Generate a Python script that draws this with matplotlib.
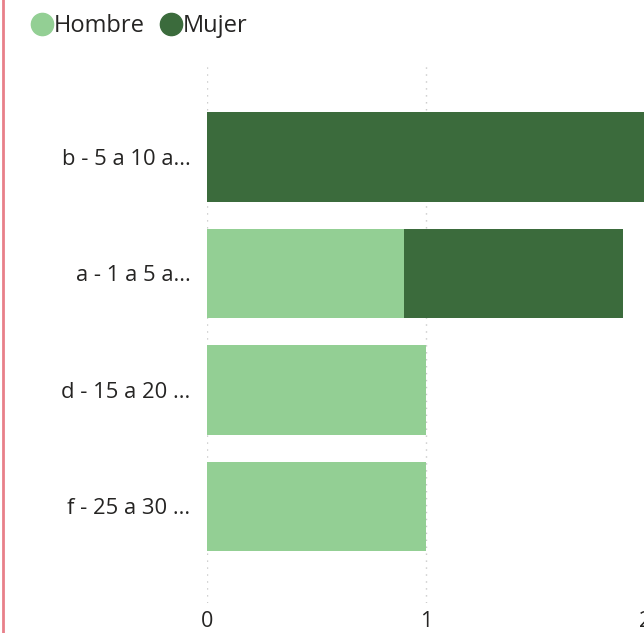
import matplotlib.pyplot as plt
from matplotlib.lines import Line2D
import numpy as np

categorias = ['b - 5 a 10 a...', 'a - 1 a 5 a...', 'd - 15 a 20 ...', 'f - 25 a 30 ...']
hombre = [0, 0.9, 1, 1]
mujer = [2, 1.0, 0, 0]
color_hombre = '#93CF94'
color_mujer = '#3B6B3C'

plt.rcParams['font.family'] = ['Open Sans', 'DejaVu Sans']

fig = plt.figure(figsize=(6.44, 6.33), dpi=100)
W, H = 644, 633
x0, x1 = 207, 645
y_top, y_bot = 65, 603
ax = fig.add_axes([x0 / W, 1 - y_bot / H, (x1 - x0) / W, (y_bot - y_top) / H])

y = np.arange(len(categorias))
ax.barh(y, hombre, height=0.77, color=color_hombre, zorder=2)
ax.barh(y, mujer, left=hombre, height=0.77, color=color_mujer, zorder=2)

ax.set_ylim(3.83, -0.79)
ax.set_xlim(0, 2)
ax.set_yticks(y)
ax.set_yticklabels(categorias, fontsize=15.8, color='#252423')
ax.set_xticks([0, 1, 2])
ax.set_xticklabels(['0', '1', '2'], fontsize=15.5, color='#252423')
ax.tick_params(length=0, pad=12)
ax.tick_params(axis='x', pad=6)
ax.grid(axis='x', linestyle=(0, (1, 4)), color='#C8C8C8', linewidth=1, zorder=0)
for s in ax.spines.values():
    s.set_visible(False)

handles = [Line2D([], [], marker='o', linestyle='', markersize=16, color=color_hombre),
           Line2D([], [], marker='o', linestyle='', markersize=16, color=color_mujer)]
fig.legend(handles, ['Hombre', 'Mujer'], loc='upper left', bbox_to_anchor=(7 / W, 1 + 7 / H),
           ncol=2, frameon=False, fontsize=17, handletextpad=-0.1, columnspacing=0.5,
           handlelength=1.2, labelcolor='#252423')

fig.add_artist(Line2D([2.5 / W, 2.5 / W], [0, 1], color='#E8808A', linewidth=2))

plt.savefig('out.png', dpi=100)
